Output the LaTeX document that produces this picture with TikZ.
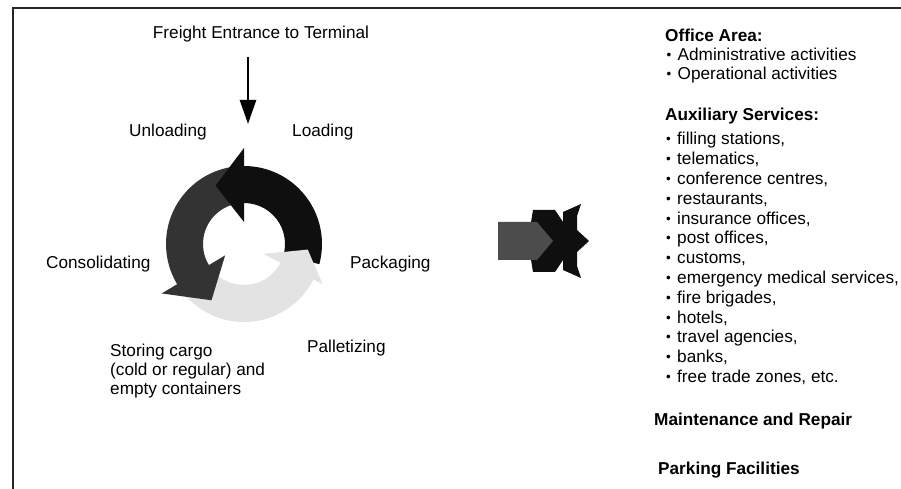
\documentclass[tikz,border=0pt]{standalone}
\usepackage{fontspec}
\setmainfont{Liberation Sans}
\usetikzlibrary{arrows.meta}
\newcommand\bul{\makebox[11pt][l]{\raisebox{1pt}{\fontsize{13.5}{13.5}\selectfont\textbullet}}}
\begin{document}
\begin{tikzpicture}[x=1pt,y=1pt,
  lbl/.style={font=\fontsize{17.2}{20}\selectfont, inner sep=0pt, anchor=base west},
  hd/.style={lbl, font=\fontsize{17.2}{20}\selectfont\bfseries},
  blackarr/.style={fill=black!94},
  grayarr/.style={fill=black!80},
  lightarr/.style={fill=black!11},
  bigarr/.style={fill=black!70},
  frame/.style={line width=1.8pt, draw=black!85},
  entry/.style={line width=2.6pt, -{Triangle[length=24pt,width=16pt]}}]
\useasboundingbox (0,0) rectangle (901,489);
% frame
\coordinate (tr) at (901,481);
\coordinate (tl) at (12.7,481);
\coordinate (bl) at (12.7,0);
\draw[frame] (tr) -- (tl) -- (bl);
% entrance
\node[lbl,anchor=base] (freight) at (261,450) {Freight Entrance to Terminal};
\coordinate (fa) at (248,432);
\coordinate (fb) at (248,365);
\draw[entry] (fa) -- (fb);
% cycle
\begin{scope}[shift={(244,245)}]
 \fill[lightarr] (205:78pt) arc[start angle=205,end angle=333,radius=78pt] -- (333:88pt) -- (355:64pt) -- (333:22pt) -- (333:41pt) arc[start angle=333,end angle=205,radius=41pt] -- cycle;
 \fill[grayarr] (92:78pt) arc[start angle=92,end angle=211,radius=78pt] -- (211:96pt) -- (240:65pt) -- (211:22pt) -- (211:41pt) arc[start angle=211,end angle=92,radius=41pt] -- cycle;
 \fill[blackarr] (-15:78pt) arc[start angle=-15,end angle=90,radius=78pt] -- (90:96pt) -- (116:65pt) -- (90:22pt) -- (90:41pt) arc[start angle=90,end angle=-15,radius=41pt] -- cycle;
 \fill[lightarr] (333:88pt) -- (355:64pt) -- (333:22pt) -- cycle;
\end{scope}
\node[lbl] (unload) at (129,352) {Unloading};
\node[lbl] (load) at (292,352) {Loading};
\node[lbl] (consol) at (46,220) {Consolidating};
\node[lbl] (pack) at (350,220) {Packaging};
\node[lbl] (pallet) at (307,136) {Palletizing};
\node[lbl] (store1) at (110,132) {Storing cargo};
\node[lbl] (store2) at (110,113) {(cold or regular) and};
\node[lbl] (store3) at (110,94) {empty containers};
% big arrow
\fill[blackarr] (533,279) -- (555,279) -- (563,267) -- (563,277) -- (581,285) -- (577,273) -- (577,259) -- (589,248) -- (577,237) -- (577,223) -- (581,211) -- (563,219) -- (563,229) -- (555,217) -- (533,217) -- (528,248) -- cycle;
\fill[bigarr] (498,229) -- (537,229) -- (553,248) -- (537,267) -- (498,267) -- cycle;
% right column
\node[hd] (office) at (665,447) {Office Area:};
\node[lbl] (o1) at (666.5,428.5) {\bul Administrative activities};
\node[lbl] (o2) at (666.5,409.5) {\bul Operational activities};
\node[hd] (aux) at (665,368) {Auxiliary Services:};
\node[lbl] (a1) at (666,344) {\bul filling stations,};
\node[lbl] (a2) at (666,324.2) {\bul telematics,};
\node[lbl] (a3) at (666,304.4) {\bul conference centres,};
\node[lbl] (a4) at (666,284.6) {\bul restaurants,};
\node[lbl] (a5) at (666,264.8) {\bul insurance offices,};
\node[lbl] (a6) at (666,245) {\bul post offices,};
\node[lbl] (a7) at (666,225.2) {\bul customs,};
\node[lbl] (a8) at (666,205.4) {\bul emergency medical services,};
\node[lbl] (a9) at (666,185.6) {\bul fire brigades,};
\node[lbl] (a10) at (666,165.8) {\bul hotels,};
\node[lbl] (a11) at (666,146) {\bul travel agencies,};
\node[lbl] (a12) at (666,126.2) {\bul banks,};
\node[lbl] (a13) at (666,106.4) {\bul free trade zones, etc.};
\node[hd] (maint) at (654,63) {Maintenance and Repair};
\node[hd] (park) at (658,14) {Parking Facilities};
\end{tikzpicture}
\end{document}
